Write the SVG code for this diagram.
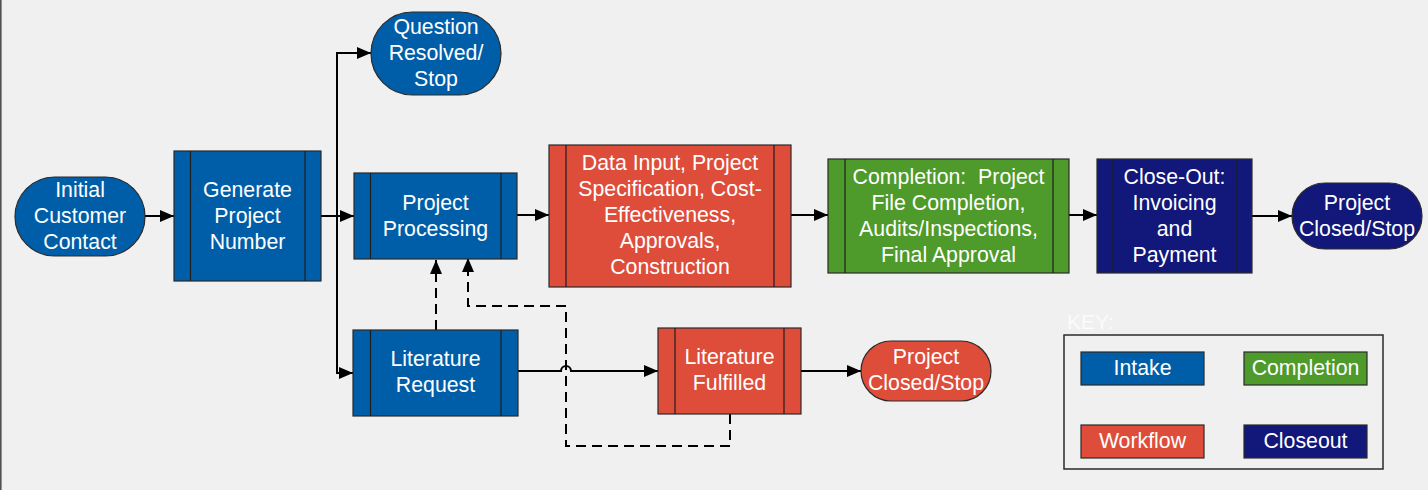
<svg xmlns="http://www.w3.org/2000/svg" width="1428" height="490" viewBox="0 0 1428 490">
  <style>
    .lbl { font-family: "Liberation Sans", Arial, sans-serif; font-size: 21.3px; fill: #ffffff; text-anchor: middle; white-space: pre; }
    .box { stroke: #2a2a2a; stroke-width: 1.2; }
    .bar { stroke: #1e1e1e; stroke-width: 1.2; fill: none; }
    .intake { fill: #005ea8; }
    .workflow { fill: #dd4d3a; }
    .completion { fill: #4e9a2a; }
    .closeout { fill: #12177a; }
    .wire { fill: none; stroke: #000000; stroke-width: 2; }
    .dash { fill: none; stroke: #000000; stroke-width: 2; stroke-dasharray: 10 6; }
  </style>
  <defs>
    <marker id="arrow" viewBox="0 0 14 12" refX="14" refY="6" markerWidth="14" markerHeight="12" markerUnits="userSpaceOnUse" orient="auto">
      <path d="M0,0 L14,6 L0,12 Z" fill="#000000"/>
    </marker>
  </defs>

  <!-- page -->
  <rect x="0" y="0" width="1428" height="490" fill="#f0f0f0"/>
  <line x1="0.8" y1="0" x2="0.8" y2="490" stroke="#505050" stroke-width="1.6"/>

  <!-- connectors -->
  <g id="connectors">
    <path class="wire" d="M145,216 L174,216" marker-end="url(#arrow)"/>
    <path class="wire" d="M321,216 L354,216" marker-end="url(#arrow)"/>
    <path class="wire" d="M337,216 L337,53 L371,53" marker-end="url(#arrow)"/>
    <path class="wire" d="M337,216 L337,373 L353,373" marker-end="url(#arrow)"/>
    <path class="wire" d="M517,215 L549,215" marker-end="url(#arrow)"/>
    <path class="wire" d="M791,215 L828,215" marker-end="url(#arrow)"/>
    <path class="wire" d="M1069,215 L1097,215" marker-end="url(#arrow)"/>
    <path class="wire" d="M1252,216 L1292,216" marker-end="url(#arrow)"/>
    <path class="wire" d="M518,371 L561,371 A5,5 0 0 1 571,371 L658,371" marker-end="url(#arrow)"/>
    <path class="wire" d="M801,371 L861,371" marker-end="url(#arrow)"/>
    <path class="dash" d="M436,330 L436,260" marker-end="url(#arrow)"/>
    <path class="dash" d="M730,414 L730,446 L566,446 L566,306 L468,306 L468,258" marker-end="url(#arrow)"/>
  </g>

  <!-- intake -->
  <g id="initial-contact">
    <rect class="box intake" x="15" y="177" width="130" height="79" rx="39.5"/>
    <text class="lbl" x="80" y="197">Initial</text>
    <text class="lbl" x="80" y="223">Customer</text>
    <text class="lbl" x="80" y="249">Contact</text>
  </g>

  <g id="generate-number">
    <rect class="box intake" x="174" y="151" width="147" height="130"/>
    <path class="bar" d="M190.5,151 V281 M305,151 V281"/>
    <text class="lbl" x="247.5" y="197">Generate</text>
    <text class="lbl" x="247.5" y="223">Project</text>
    <text class="lbl" x="247.5" y="249">Number</text>
  </g>

  <g id="question-resolved">
    <rect class="box intake" x="371" y="12" width="130" height="83" rx="41.5"/>
    <text class="lbl" x="436" y="34">Question</text>
    <text class="lbl" x="436" y="60">Resolved/</text>
    <text class="lbl" x="436" y="86">Stop</text>
  </g>

  <g id="project-processing">
    <rect class="box intake" x="354" y="173" width="163" height="86"/>
    <path class="bar" d="M370.5,173 V259 M501,173 V259"/>
    <text class="lbl" x="435.5" y="210">Project</text>
    <text class="lbl" x="435.5" y="236">Processing</text>
  </g>

  <g id="literature-request">
    <rect class="box intake" x="353" y="330" width="165" height="86"/>
    <path class="bar" d="M370.5,330 V416 M501,330 V416"/>
    <text class="lbl" x="435.5" y="366">Literature</text>
    <text class="lbl" x="435.5" y="392">Request</text>
  </g>

  <!-- workflow -->
  <g id="data-input">
    <rect class="box workflow" x="549" y="145" width="242" height="142"/>
    <path class="bar" d="M566,145 V287 M774,145 V287"/>
    <text class="lbl" x="670" y="170">Data Input, Project</text>
    <text class="lbl" x="670" y="196">Specification, Cost-</text>
    <text class="lbl" x="670" y="222">Effectiveness,</text>
    <text class="lbl" x="670" y="248">Approvals,</text>
    <text class="lbl" x="670" y="274">Construction</text>
  </g>

  <g id="literature-fulfilled">
    <rect class="box workflow" x="658" y="328" width="143" height="86"/>
    <path class="bar" d="M675,328 V414 M784,328 V414"/>
    <text class="lbl" x="729.5" y="364">Literature</text>
    <text class="lbl" x="729.5" y="390">Fulfilled</text>
  </g>

  <g id="literature-closed">
    <rect class="box workflow" x="861" y="341" width="130" height="60" rx="30"/>
    <text class="lbl" x="926" y="364">Project</text>
    <text class="lbl" x="926" y="390">Closed/Stop</text>
  </g>

  <!-- completion -->
  <g id="completion">
    <rect class="box completion" x="828" y="159" width="241" height="114"/>
    <path class="bar" d="M845,159 V273 M1053,159 V273"/>
    <text class="lbl" x="948.5" y="184" xml:space="preserve">Completion:  Project</text>
    <text class="lbl" x="948.5" y="210">File Completion,</text>
    <text class="lbl" x="948.5" y="236">Audits/Inspections,</text>
    <text class="lbl" x="948.5" y="262">Final Approval</text>
  </g>

  <!-- closeout -->
  <g id="close-out">
    <rect class="box closeout" x="1097" y="159" width="155" height="114"/>
    <path class="bar" d="M1113,159 V273 M1237,159 V273"/>
    <text class="lbl" x="1174.5" y="184">Close-Out:</text>
    <text class="lbl" x="1174.5" y="210">Invoicing</text>
    <text class="lbl" x="1174.5" y="236">and</text>
    <text class="lbl" x="1174.5" y="262">Payment</text>
  </g>

  <g id="project-closed">
    <rect class="box closeout" x="1292" y="183" width="130" height="66" rx="33"/>
    <text class="lbl" x="1357" y="210">Project</text>
    <text class="lbl" x="1357" y="236">Closed/Stop</text>
  </g>

  <!-- legend -->
  <g id="key">
    <text x="1067" y="329" font-family="Liberation Sans, Arial, sans-serif" font-size="21" fill="#fbfbfb">KEY:</text>
    <rect x="1064" y="335" width="319" height="134" fill="none" stroke="#2a2a2a" stroke-width="1.5"/>
    <rect class="box intake" x="1081" y="352" width="123" height="33"/>
    <text class="lbl" x="1142.5" y="375">Intake</text>
    <rect class="box completion" x="1244" y="352" width="123" height="33"/>
    <text class="lbl" x="1305.5" y="375">Completion</text>
    <rect class="box workflow" x="1081" y="425" width="123" height="33"/>
    <text class="lbl" x="1142.5" y="448">Workflow</text>
    <rect class="box closeout" x="1244" y="425" width="123" height="33"/>
    <text class="lbl" x="1305.5" y="448">Closeout</text>
  </g>
</svg>
